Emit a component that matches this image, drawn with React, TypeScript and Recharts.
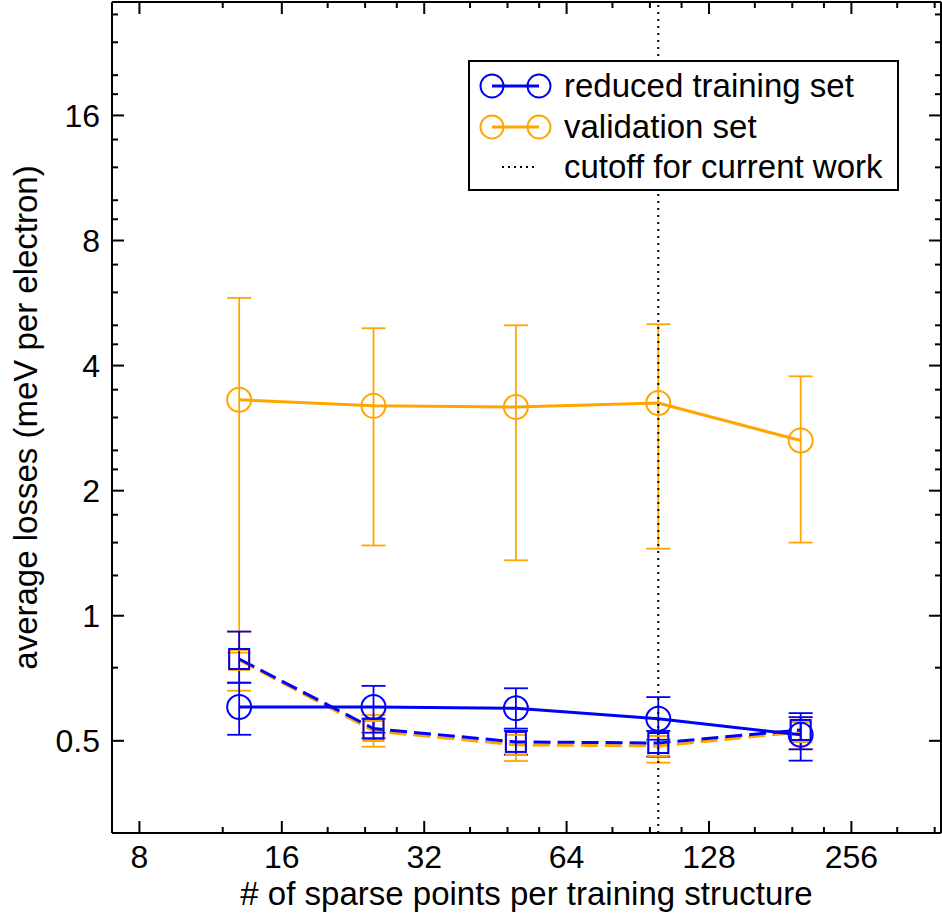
import React from "react";
import {
  ComposedChart,
  Line,
  XAxis,
  YAxis,
  ErrorBar,
  ReferenceLine,
  Legend,
} from "recharts";

// x: number of sparse points per training structure
const sparsePoints = [13, 25, 50, 100, 200];

// reduced training set (solid, circles)
const trainMean = [0.603, 0.603, 0.599, 0.565, 0.517];
const trainLow = [0.517, 0.523, 0.535, 0.503, 0.448];
const trainHigh = [0.69, 0.678, 0.669, 0.637, 0.583];

// validation set (solid, circles)
const validMean = [3.31, 3.2, 3.18, 3.25, 2.64];
const validLow = [0.815, 1.476, 1.36, 1.45, 1.5];
const validHigh = [5.82, 4.92, 5.0, 5.03, 3.77];

// dashed, squares
const trainSqMean = [0.787, 0.535, 0.497, 0.494, 0.531];
const trainSqLow = [0.69, 0.507, 0.463, 0.458, 0.477];
const trainSqHigh = [0.916, 0.565, 0.528, 0.528, 0.57];
const validSqMean = [0.783, 0.528, 0.489, 0.486, 0.525];
const validSqLow = [0.66, 0.484, 0.447, 0.443, 0.477];
const validSqHigh = [0.916, 0.577, 0.528, 0.528, 0.57];

const cutoff = 100;

const xMajor = [8, 16, 32, 64, 128, 256];
const xMinor = [12, 20, 24, 28, 40, 48, 56, 80, 96, 112, 160, 192, 224, 320, 384];
const yMajor = [0.5, 1, 2, 4, 8, 16];
const yMinor = [
  0.75, 1.25, 1.5, 1.75, 2.25, 2.5, 3, 3.5, 4.5, 5, 6, 7, 9, 10, 12, 14, 18, 20,
  24, 28,
];

const BLUE = "#0000ff";
const ORANGE = "#ffa500";
const FONT = "'Liberation Sans', Arial, Helvetica, sans-serif";

const err = (m: number, lo: number, hi: number) => [m - lo, hi - m];

const data = sparsePoints.map((n, i) => ({
  n,
  train: trainMean[i],
  trainErr: err(trainMean[i], trainLow[i], trainHigh[i]),
  valid: validMean[i],
  validErr: err(validMean[i], validLow[i], validHigh[i]),
  trainSq: trainSqMean[i],
  trainSqErr: err(trainSqMean[i], trainSqLow[i], trainSqHigh[i]),
  validSq: validSqMean[i],
  validSqErr: err(validSqMean[i], validSqLow[i], validSqHigh[i]),
}));

const xTicks = [...xMajor, ...xMinor].sort((a, b) => a - b);
const yTicks = [...yMajor, ...yMinor].sort((a, b) => a - b);

const BottomTick = (props: any) => {
  const { x, y, payload } = props;
  const major = xMajor.includes(payload.value);
  return (
    <g>
      <line x1={x} x2={x} y1={y} y2={y - (major ? 12 : 6)} stroke="#000" strokeWidth={2} />
      {major && (
        <text x={x} y={y + 35} textAnchor="middle" fontSize={32} fontFamily={FONT} fill="#000">
          {payload.value}
        </text>
      )}
    </g>
  );
};

const TopTick = (props: any) => {
  const { x, y, payload } = props;
  const major = xMajor.includes(payload.value);
  return <line x1={x} x2={x} y1={y} y2={y + (major ? 12 : 6)} stroke="#000" strokeWidth={2} />;
};

const LeftTick = (props: any) => {
  const { x, y, payload } = props;
  const major = yMajor.includes(payload.value);
  return (
    <g>
      <line x1={x} x2={x + (major ? 12 : 6)} y1={y} y2={y} stroke="#000" strokeWidth={2} />
      {major && (
        <text x={x - 12} y={y + 11.5} textAnchor="end" fontSize={32} fontFamily={FONT} fill="#000">
          {payload.value}
        </text>
      )}
    </g>
  );
};

const RightTick = (props: any) => {
  const { x, y, payload } = props;
  const major = yMajor.includes(payload.value);
  return <line x1={x} x2={x - (major ? 12 : 6)} y1={y} y2={y} stroke="#000" strokeWidth={2} />;
};

const squareDot = (color: string) => (props: any) => {
  const { cx, cy, index } = props;
  return (
    <rect
      key={`sq-${color}-${index}`}
      x={cx - 10}
      y={cy - 10}
      width={20}
      height={20}
      fill="none"
      stroke={color}
      strokeWidth={2}
    />
  );
};

const circleDot = (color: string) => ({ r: 12, fill: "none", stroke: color, strokeWidth: 2 });

const LegendBox = () => {
  const row = (y: number, color: string, label: string) => (
    <g key={label}>
      <line x1={24} x2={71} y1={y} y2={y} stroke={color} strokeWidth={3} />
      <circle cx={24} cy={y} r={11.5} fill="none" stroke={color} strokeWidth={2} />
      <circle cx={71} cy={y} r={11.5} fill="none" stroke={color} strokeWidth={2} />
      <text x={96} y={y + 11} fontSize={33} fontFamily={FONT} fill="#000">
        {label}
      </text>
    </g>
  );
  return (
    <svg width={431} height={131} style={{ display: "block" }}>
      <rect x={1} y={1} width={429} height={129} fill="#fff" stroke="#000" strokeWidth={2} />
      {row(26, BLUE, "reduced training set")}
      {row(67, ORANGE, "validation set")}
      <line x1={34} x2={70} y1={107} y2={107} stroke="#000" strokeWidth={2} strokeDasharray="2 4" />
      <text x={96} y={118} fontSize={33} fontFamily={FONT} fill="#000">
        cutoff for current work
      </text>
    </svg>
  );
};

export default function App() {
  return (
    <div style={{ position: "absolute", left: 0, top: 0, background: "#fff" }}>
      <ComposedChart width={942} height={919} data={data} margin={{ top: 0, right: 0, bottom: 0, left: 0 }}>
        <XAxis
          dataKey="n"
          type="number"
          scale="log"
          domain={[7, 396]}
          allowDataOverflow
          ticks={xTicks}
          interval={0}
          height={86}
          tickSize={0}
          tickMargin={0}
          tickLine={false}
          axisLine={{ stroke: "#000", strokeWidth: 2 }}
          tick={<BottomTick />}
          label={{
            content: (p: any) => {
              const vb = p.viewBox;
              return (
                <text x={vb.x + vb.width / 2} y={905} textAnchor="middle" fontSize={33} fontFamily={FONT} fill="#000">
                  # of sparse points per training structure
                </text>
              );
            },
          }}
        />
        <XAxis
          xAxisId="top"
          orientation="top"
          dataKey="n"
          type="number"
          scale="log"
          domain={[7, 396]}
          allowDataOverflow
          ticks={xTicks}
          interval={0}
          height={2}
          tickSize={0}
          tickMargin={0}
          tickLine={false}
          axisLine={{ stroke: "#000", strokeWidth: 2 }}
          tick={<TopTick />}
        />
        <YAxis
          type="number"
          scale="log"
          domain={[0.3, 30]}
          allowDataOverflow
          ticks={yTicks}
          interval={0}
          width={112}
          tickSize={0}
          tickMargin={0}
          tickLine={false}
          axisLine={{ stroke: "#000", strokeWidth: 2 }}
          tick={<LeftTick />}
          label={{
            content: (p: any) => {
              const vb = p.viewBox;
              const cy = vb.y + vb.height / 2;
              return (
                <text
                  x={37}
                  y={cy}
                  transform={`rotate(-90 37 ${cy})`}
                  textAnchor="middle"
                  fontSize={33}
                  fontFamily={FONT}
                  fill="#000"
                >
                  average losses (meV per electron)
                </text>
              );
            },
          }}
        />
        <YAxis
          yAxisId="right"
          orientation="right"
          type="number"
          scale="log"
          domain={[0.3, 30]}
          allowDataOverflow
          ticks={yTicks}
          interval={0}
          width={1}
          tickSize={0}
          tickMargin={0}
          tickLine={false}
          axisLine={{ stroke: "#000", strokeWidth: 2 }}
          tick={<RightTick />}
        />
        <Legend
          layout="horizontal"
          verticalAlign="middle"
          align="center"
          wrapperStyle={{ left: 468, top: 60, width: 431, height: 131 }}
          content={() => <LegendBox />}
        />
        <Line
          dataKey="valid"
          stroke={ORANGE}
          strokeWidth={3}
          dot={circleDot(ORANGE)}
          activeDot={false}
          isAnimationActive={false}
        >
          <ErrorBar dataKey="validErr" direction="y" width={12} stroke={ORANGE} strokeWidth={1.8} isAnimationActive={false} />
        </Line>
        <Line
          dataKey="validSq"
          stroke={ORANGE}
          strokeWidth={3}
          strokeDasharray="17 7"
          dot={squareDot(ORANGE)}
          activeDot={false}
          isAnimationActive={false}
        >
          <ErrorBar dataKey="validSqErr" direction="y" width={12} stroke={ORANGE} strokeWidth={1.8} isAnimationActive={false} />
        </Line>
        <Line
          dataKey="trainSq"
          stroke={BLUE}
          strokeWidth={3}
          strokeDasharray="17 7"
          dot={squareDot(BLUE)}
          activeDot={false}
          isAnimationActive={false}
        >
          <ErrorBar dataKey="trainSqErr" direction="y" width={12} stroke={BLUE} strokeWidth={1.8} isAnimationActive={false} />
        </Line>
        <Line
          dataKey="train"
          stroke={BLUE}
          strokeWidth={3}
          dot={circleDot(BLUE)}
          activeDot={false}
          isAnimationActive={false}
        >
          <ErrorBar dataKey="trainErr" direction="y" width={12} stroke={BLUE} strokeWidth={1.8} isAnimationActive={false} />
        </Line>
        <ReferenceLine x={cutoff} stroke="#000" strokeWidth={2} strokeDasharray="2 5" />
      </ComposedChart>
    </div>
  );
}
